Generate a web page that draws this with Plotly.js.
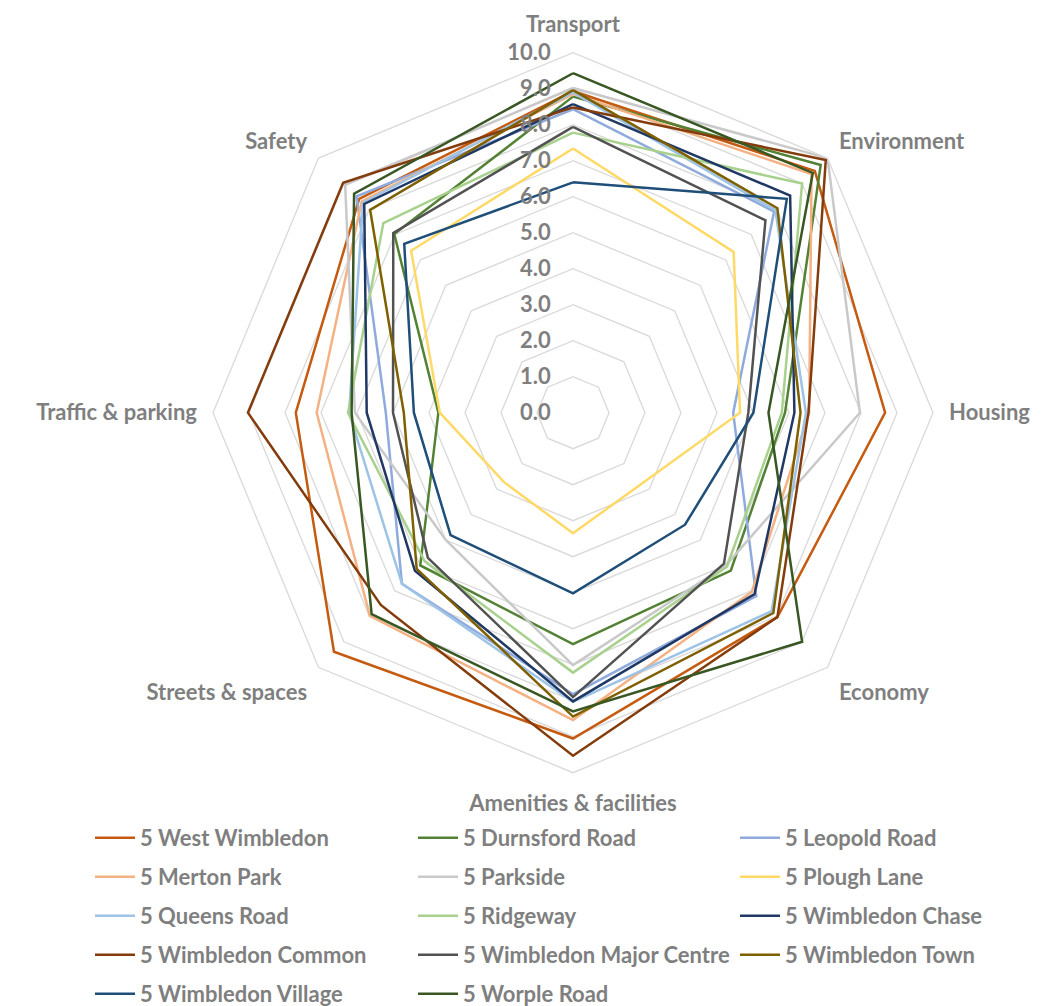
<!DOCTYPE html>
<html>
<head>
<meta charset="utf-8">
<script src="https://cdn.plot.ly/plotly-3.0.1.min.js"></script>
<style>html,body{margin:0;padding:0;background:#fff;}#chart{width:1047px;height:1006px;}</style>
</head>
<body>
<div id="chart"></div>
<script>
const categories = ['Transport','Environment','Housing','Economy','Amenities & facilities','Streets & spaces','Traffic & parking','Safety'];
const radialTicks = [0,1,2,3,4,5,6,7,8,9,10];

const westWimbledon     = [8.93, 9.50, 8.67, 8.03, 9.05, 9.39, 7.70, 8.40];
const durnsfordRoad     = [8.78, 9.73, 5.89, 6.20, 6.43, 6.00, 3.74, 7.02];
const leopoldRoad       = [8.43, 7.90, 4.45, 7.20, 7.82, 6.72, 5.20, 8.50];
const mertonPark        = [8.85, 9.37, 6.56, 7.03, 8.54, 7.98, 7.12, 8.30];
const parkside          = [9.02, 10.0, 7.97, 6.00, 7.01, 5.00, 6.06, 8.95];
const ploughLane        = [7.34, 6.31, 4.64, 2.75, 3.35, 2.72, 3.70, 6.36];
const queensRoad        = [8.90, 7.95, 6.47, 7.80, 8.03, 6.72, 6.22, 8.25];
const ridgeway          = [7.78, 9.00, 5.80, 6.05, 7.22, 5.83, 6.25, 7.45];
const wimbledonChase    = [8.57, 8.53, 6.15, 7.13, 8.02, 6.21, 5.73, 8.20];
const wimbledonCommon   = [8.48, 9.93, 6.54, 8.03, 9.53, 7.55, 9.03, 9.03];
const wimbledonMajor    = [7.94, 7.56, 4.87, 5.93, 7.90, 5.70, 5.00, 7.06];
const wimbledonTown     = [8.96, 8.03, 6.32, 7.87, 8.44, 6.14, 4.70, 7.97];
const wimbledonVillage  = [6.40, 8.40, 5.01, 4.40, 5.02, 4.81, 4.42, 6.63];
const worpleRoad        = [9.43, 9.42, 5.43, 9.00, 8.30, 7.91, 6.15, 8.60];

const seriesNames = ['5 West Wimbledon','5 Durnsford Road','5 Leopold Road','5 Merton Park','5 Parkside','5 Plough Lane','5 Queens Road','5 Ridgeway','5 Wimbledon Chase','5 Wimbledon Common','5 Wimbledon Major Centre','5 Wimbledon Town','5 Wimbledon Village','5 Worple Road'];
const seriesValues = [westWimbledon, durnsfordRoad, leopoldRoad, mertonPark, parkside, ploughLane, queensRoad, ridgeway, wimbledonChase, wimbledonCommon, wimbledonMajor, wimbledonTown, wimbledonVillage, worpleRoad];
const seriesColors = ['#C55A11','#548235','#8FAADC','#F4B183','#C9C9C9','#FFD966','#9DC3E6','#A9D18E','#203864','#843C0C','#525252','#7F6000','#1F4E79','#385723'];
// legend column for each series (rows fill left to right)
const legendIds = ['legend','legend2','legend3','legend','legend2','legend3','legend','legend2','legend3','legend','legend2','legend3','legend','legend2'];

const FONT = 'Lato, "Open Sans", sans-serif';
const GREY = '#7F7F7F';
const W = 1047, H = 1006, MB = 200, PH = H - MB;

const traces = seriesNames.map((name, i) => ({
  type: 'scatterpolar',
  mode: 'lines',
  name: name,
  r: seriesValues[i].concat([seriesValues[i][0]]),
  theta: categories.concat([categories[0]]),
  line: {color: seriesColors[i], width: 2.5},
  legend: legendIds[i],
  legendgroup: 'g' + i,
  hoverinfo: 'skip'
}));

const legendBase = {
  orientation: 'v',
  traceorder: 'grouped',
  tracegroupgap: 7.4,
  xref: 'paper',
  yref: 'container',
  xanchor: 'left',
  yanchor: 'top',
  y: (H - 817) / H,
  bgcolor: 'rgba(0,0,0,0)',
  borderwidth: 0,
  itemwidth: 40,
  font: {family: FONT, size: 22, color: GREY, weight: 'bold'}
};

const layout = {
  width: W,
  height: H,
  margin: {l: 0, r: 0, t: 0, b: MB},
  paper_bgcolor: '#ffffff',
  font: {family: FONT, color: GREY, weight: 'bold'},
  showlegend: true,
  polar: {
    domain: {x: [213/W, 933/W], y: [(PH-772.7)/PH, (PH-52.7)/PH]},
    gridshape: 'linear',
    bgcolor: '#ffffff',
    angularaxis: {
      type: 'category',
      categoryarray: categories,
      rotation: 90,
      direction: 'clockwise',
      showgrid: false,
      showline: true,
      linecolor: '#D9D9D9',
      linewidth: 1.3,
      ticks: 'outside',
      ticklen: 11,
      tickcolor: 'rgba(0,0,0,0)',
      tickfont: {family: FONT, size: 22, color: GREY, weight: 'bold'}
    },
    radialaxis: {
      range: [0, 10],
      tickvals: radialTicks,
      tickformat: '.1f',
      angle: 90,
      tickangle: 90,
      side: 'counterclockwise',
      showticklabels: true,
      showline: false,
      ticks: 'outside',
      ticklen: 14,
      tickcolor: 'rgba(0,0,0,0)',
      gridcolor: '#D9D9D9',
      gridwidth: 1.3,
      tickfont: {family: FONT, size: 22, color: GREY, weight: 'bold'}
    }
  },
  legend: Object.assign({}, legendBase, {x: 90/W}),
  legend2: Object.assign({}, legendBase, {x: 413/W}),
  legend3: Object.assign({}, legendBase, {x: 735/W})
};

Plotly.newPlot('chart', traces, layout, {displayModeBar: false, staticPlot: true});
</script>
</body>
</html>
